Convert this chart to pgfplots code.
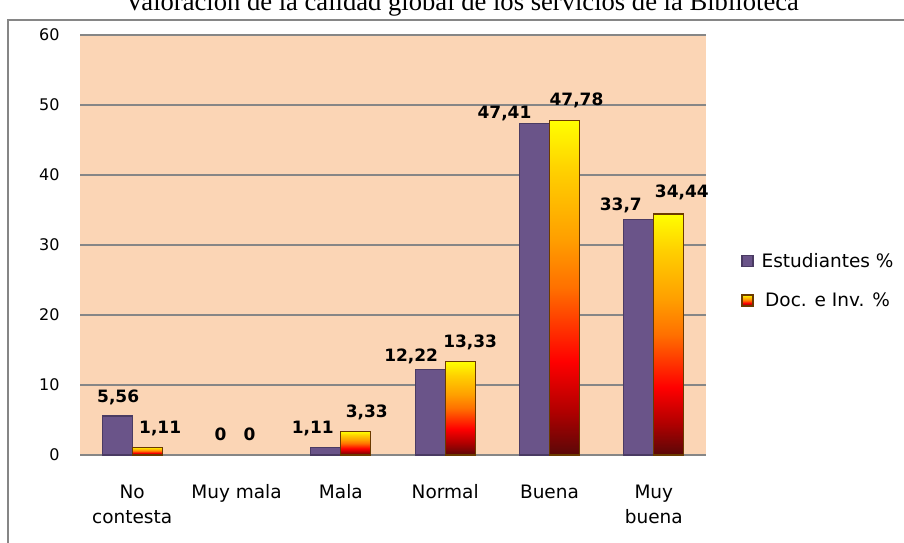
\documentclass[border=0pt]{standalone}
\usepackage{fontspec}
\setmainfont{DejaVu Sans}
\newfontfamily\titlefont{Liberation Serif}
\usepackage{pgfplots}
\usepackage{pgfplotstable}
\pgfplotsset{compat=1.18}

\definecolor{peach}{HTML}{FBD5B5}
\definecolor{gridgray}{HTML}{868686}
\definecolor{estfill}{HTML}{6A5489}
\definecolor{estdraw}{HTML}{4A3B63}
\definecolor{docdark}{HTML}{5A0808}
\definecolor{docred2}{HTML}{B00000}
\definecolor{docred}{HTML}{FF0000}
\definecolor{docor1}{HTML}{FF7000}
\definecolor{docor2}{HTML}{FFA000}
\definecolor{docgold}{HTML}{FFD000}
\definecolor{docyel}{HTML}{FFFF00}
\definecolor{docdraw}{HTML}{6B3A00}

\pgfdeclareverticalshading{docshade}{100bp}{%
  color(0bp)=(docdark); color(25bp)=(docdark); color(31.5bp)=(docred2);
  color(39bp)=(docred); color(50bp)=(docor1); color(57.5bp)=(docor2);
  color(67.5bp)=(docgold); color(75bp)=(docyel); color(100bp)=(docyel)}

\pgfplotstableread{
x y
0 5.56
1 0
2 1.11
3 12.22
4 47.41
5 33.7
}\estudiantes

\pgfplotstableread{
x y
0 1.11
1 0
2 3.33
3 13.33
4 47.78
5 34.44
}\docentes

% offsets of the value labels from the bar tops (pt)
\def\estdx{{1,-1,-13,-19,-30,-18}}
\def\estdy{{14,15,14,7.5,5,9}}
\def\docdx{{13,-2,11,10,12,13}}
\def\docdy{{14,15,14,14,15,16}}

\pgfplotsset{
  valuelabels/.style 2 args={
    draw=none, fill=none, forget plot,
    visualization depends on={value \coordindex\as\idx},
    nodes near coords={\pgfmathprintnumber[use comma,fixed,precision=2]{\pgfplotspointmeta}},
    every node near coord/.append style={font=\bfseries\fontsize{17}{20}\selectfont,
      anchor=base, xshift={#1[\idx]*1pt}, yshift={#2[\idx]*1pt}},
  },
  nozero/.style={y filter/.expression={y==0 ? nan : y}},
  estbar/.style={fill=estfill, draw=estdraw, line width=1.2pt, bar shift=-15pt},
  docbar/.style={shading=docshade, draw=docdraw, line width=1.2pt, bar shift=15pt},
}

\begin{document}
\begin{tikzpicture}
\draw[gridgray, line width=2pt] (8pt,522pt) rectangle (915pt,-10pt);
\node[font=\titlefont\fontsize{26.6}{30}\selectfont, anchor=base] at (462pt,531pt)
  {Valoración de la calidad global de los servicios de la Biblioteca};
\begin{axis}[
  at={(80pt,87pt)}, anchor=south west,
  scale only axis, width=626pt, height=420pt,
  xmin=-0.5, xmax=5.5, ymin=0, ymax=60,
  axis line style={draw=none},
  axis background/.style={fill=peach},
  ymajorgrids, grid style={gridgray, line width=1.5pt},
  major tick length=0pt,
  ytick={0,10,...,60},
  xtick={0,...,5},
  xticklabels={No\\contesta, Muy mala, Mala, Normal, Buena, Muy\\buena},
  xticklabel style={align=center, font=\fontsize{18.5}{25}\selectfont, yshift=-26pt},
  yticklabel style={font=\fontsize{16}{18}\selectfont, xshift=-17pt},
  /pgf/number format/assume math mode=true,
  ybar, bar width=30pt,
  legend image code/.code={\draw[#1] (0pt,-5.5pt) rectangle (11pt,5.5pt);
    \path (17pt,0pt);},
  legend style={draw=none, fill=none, at={(1.0514,0.49)}, anchor=north west,
    font=\fontsize{18.5}{22}\selectfont, row sep=20pt},
]
\addplot[estbar, nozero] table[x=x, y=y] {\estudiantes};
\addlegendentry{Estudiantes \%}
\addplot[bar shift=-15pt, valuelabels={\estdx}{\estdy}] table[x=x, y=y] {\estudiantes};
% one plot per bar so that each bar gets its own gradient
\pgfplotsinvokeforeach{0,...,5}{
  \addplot[docbar, forget plot, nozero,
    x filter/.expression={\coordindex==#1 ? x : nan}]
    table[x=x, y=y] {\docentes};
}
\addplot[bar shift=15pt, valuelabels={\docdx}{\docdy}] table[x=x, y=y] {\docentes};
\addlegendimage{docbar}
\addlegendentry{Doc. e Inv. \%}
\end{axis}
\pgfresetboundingbox
\useasboundingbox (0pt,0pt) rectangle (904pt,542pt);
\end{tikzpicture}
\end{document}
